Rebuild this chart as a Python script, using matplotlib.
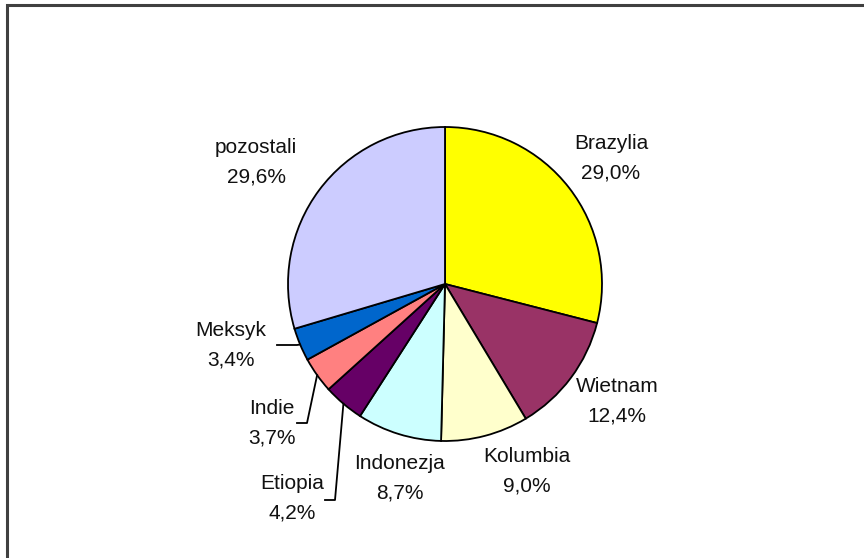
import matplotlib
matplotlib.use('Agg')
import matplotlib.pyplot as plt
from matplotlib.patches import Rectangle
import numpy as np

# Data
countries = ["Brazylia", "Wietnam", "Kolumbia", "Indonezja",
             "Etiopia", "Indie", "Meksyk", "pozostali"]
shares = [29.0, 12.4, 9.0, 8.7, 4.2, 3.7, 3.4, 29.6]  # %
colors = ["#FFFF00", "#993366", "#FFFFCC", "#CCFFFF",
          "#660066", "#FF8080", "#0066CC", "#CCCCFF"]

W, H = 864, 558
cx, cy, r = 445, H - 284, 157  # pie centre / radius (pixels)

# label centres in pixel coords (y from top)
label_pos = [(611, 158), (617, 401), (527, 471), (400, 478),
             (292, 498), (272, 423), (231, 345), (256, 162)]
# leader line elbow + end (pixel coords), only for the small slices
leaders = {4: [(335, 500), (325, 500)],
           5: [(307, 423), (297, 423)],
           6: [(297, 345), (277, 345)]}

fig = plt.figure(figsize=(W / 100, H / 100), dpi=100)
ax = fig.add_axes([0, 0, 1, 1])

wedges, _ = ax.pie(shares, colors=colors, startangle=90, counterclock=False,
                   center=(cx, cy), radius=r, frame=True,
                   wedgeprops=dict(edgecolor='black', linewidth=1.3))
ax.set_xlim(0, W)
ax.set_ylim(0, H)
ax.set_aspect('equal')
ax.axis('off')

for i, (name, val) in enumerate(zip(countries, shares)):
    x, y = label_pos[i]
    txt = name + "\n" + ("%.1f" % val).replace(".", ",") + "%"
    ax.text(x, H - y, txt, ha='center', va='center', fontsize=15,
            family='Liberation Sans', linespacing=1.68, color='#111111')
    if i in leaders:
        w = wedges[i]
        mid = np.deg2rad((w.theta1 + w.theta2) / 2)
        px = [cx + r * np.cos(mid)] + [p[0] for p in leaders[i]]
        py = [cy + r * np.sin(mid)] + [H - p[1] for p in leaders[i]]
        ax.plot(px, py, color='black', linewidth=1.3)

# outer chart frame (right and bottom edges run off the picture)
fig.patches.append(Rectangle((6.5 / W, -0.1), 2, 1.1 - 5.5 / H,
                             transform=fig.transFigure, fill=False,
                             edgecolor='#404040', linewidth=2.2))

fig.savefig("out.png", dpi=100)
